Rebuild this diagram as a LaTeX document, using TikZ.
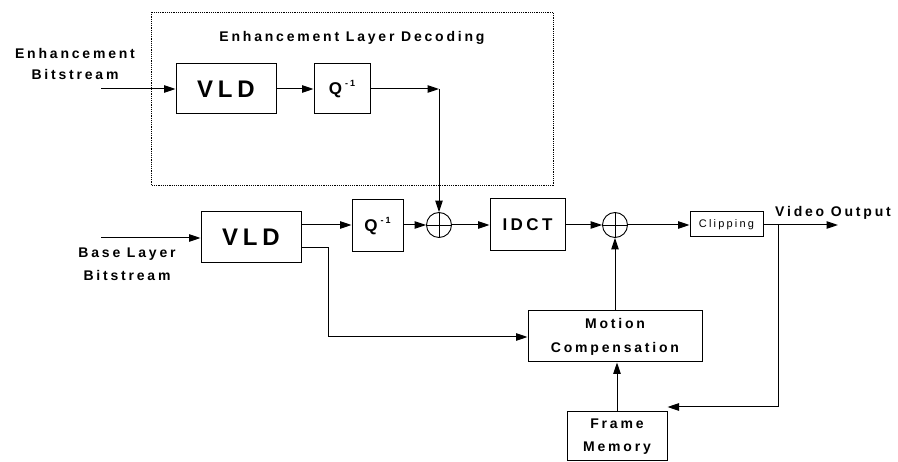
\documentclass[tikz,border=0pt]{standalone}
\usepackage{fontspec}
\setmainfont{Liberation Sans}[LetterSpace=20]
\usetikzlibrary{arrows.meta}
\tikzset{
  blk/.style={draw, line width=1pt, inner sep=0pt, font=\bfseries},
  sum/.style={draw, circle, line width=0.9pt, minimum size=25pt, inner sep=0pt,
    path picture={\draw[line width=0.9pt]
      (path picture bounding box.north) -- (path picture bounding box.south)
      (path picture bounding box.west) -- (path picture bounding box.east);}},
  flow/.style={line width=1pt, -{Triangle[length=11.5pt,width=7.5pt]}},
  lbl/.style={font=\bfseries\fontsize{14}{21}\selectfont, align=center, inner sep=0pt},
  qbox/.style={blk, font=\bfseries\fontsize{17}{17}\selectfont},
}
\newcommand{\qinv}{Q\hspace{3pt}\raisebox{0.9ex}{\fontsize{9}{9}\selectfont -1}}
\begin{document}
\begin{tikzpicture}[x=1pt,y=-1pt]
\useasboundingbox (0,0) rectangle (898,462);

% enhancement layer group
\draw[line width=0.7pt, dash pattern=on 1.2pt off 1pt] (151,12) rectangle (553,185);
\node[lbl] (title) at (352,38) {Enhancement Layer Decoding};

% blocks
\node[blk, minimum width=100pt, minimum height=50pt, font=\bfseries\fontsize{24}{24}\selectfont] (evld) at (226,89) {VLD};
\node[qbox, minimum width=56pt, minimum height=50pt] (eq) at (342,89) {\qinv};
\node[blk, minimum width=100pt, minimum height=51pt, font=\bfseries\fontsize{24}{24}\selectfont] (bvld) at (251,237) {VLD};
\node[qbox, minimum width=51pt, minimum height=52pt] (bq) at (377.5,226) {\qinv};
\node[sum] (add1) at (439,225) {};
\node[blk, minimum width=75pt, minimum height=52pt, font=\bfseries\fontsize{17}{17}\selectfont] (idct) at (527.5,225) {IDCT};
\node[sum] (add2) at (615,225) {};
\node[blk, minimum width=73pt, minimum height=25pt, font=\fontsize{11}{11}\selectfont] (clip) at (726.5,224.5) {Clipping};
\node[blk, minimum width=174pt, minimum height=51pt, align=center, font=\bfseries\fontsize{14}{24}\selectfont] (mc) at (615,336.5) {Motion\\Compensation};
\node[blk, minimum width=100pt, minimum height=49pt, align=center, font=\bfseries\fontsize{14}{23}\selectfont] (fm) at (617,436.5) {Frame\\Memory};

% input / output labels
\node[lbl] (ein) at (75,64) {Enhancement\\Bitstream};
\node[lbl, font=\bfseries\fontsize{14}{23}\selectfont] (bin) at (127,264) {Base Layer\\Bitstream};
\node[lbl, anchor=base west] (vout) at (775,217) {Video Output};

% auxiliary points
\coordinate (estart) at (101,89);
\coordinate (bstart) at (101,238);
\coordinate (ecorner) at (439,89);
\coordinate (mvtap) at (301,248);
\coordinate (mvbend1) at (328,248);
\coordinate (mvbend2) at (328,337);
\coordinate (branch) at (778,225);
\coordinate (oend) at (838,225);
\coordinate (fbend) at (778,407);

% enhancement path
\draw[flow] (estart) -- (evld.west);
\draw[flow] (evld) -- (eq);
\draw[flow] (eq.east) -- (ecorner);
\draw[flow] (ecorner) -- (add1.north);

% base path
\draw[flow] (bstart) -- (bvld.west |- bstart);
\draw[flow] (bvld.east |- add1) -- (bq.west |- add1);
\draw[flow] (bq.east |- add1) -- (add1.west);
\draw[flow] (add1.east) -- (idct.west);
\draw[flow] (idct.east) -- (add2.west);
\draw[flow] (add2.east) -- (clip.west |- add2);
\draw[flow] (clip.east |- add2) -- (oend);

% motion vectors
\draw[flow] (mvtap) -- (mvbend1) -- (mvbend2) -- (mc.west |- mvbend2);

% reconstruction loop
\draw[flow] (mc.north -| add2) -- (add2.south);
\draw[flow] (fm.north) -- (fm.north |- mc.south);
\draw[flow] (branch) -- (fbend) -- (fm.east |- fbend);
\end{tikzpicture}
\end{document}
